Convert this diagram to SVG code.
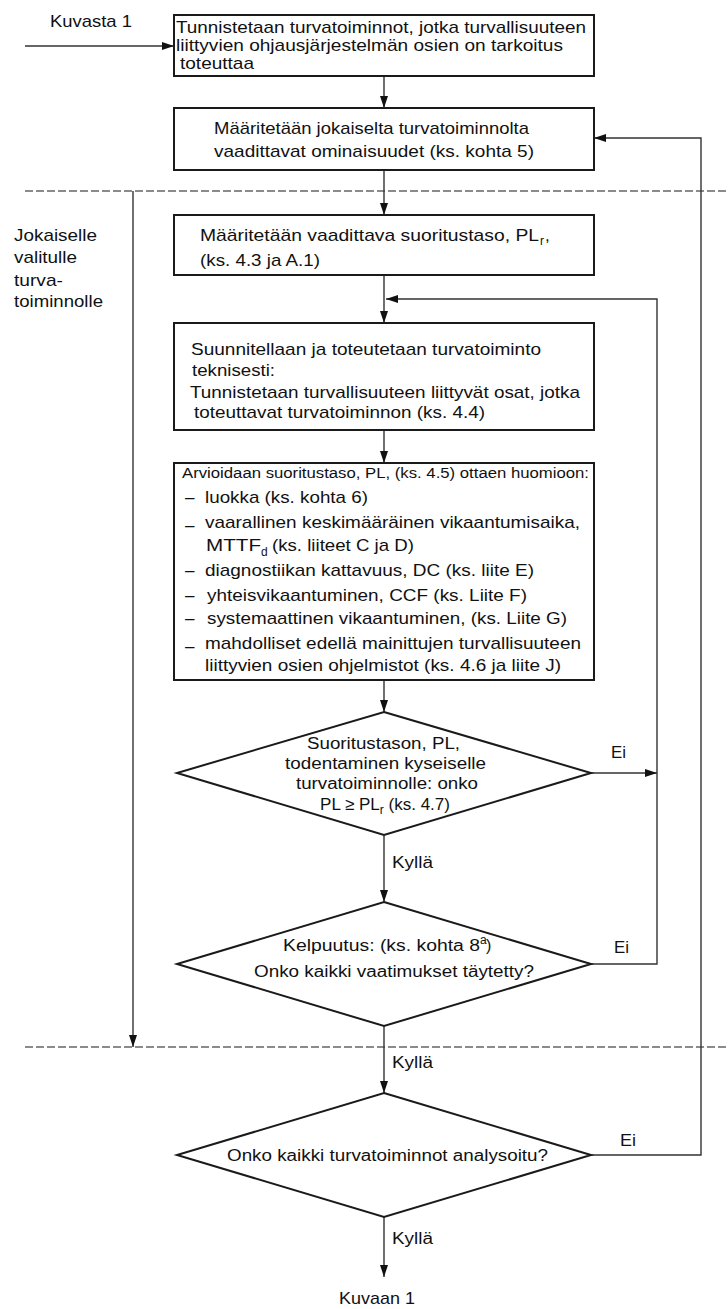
<svg xmlns="http://www.w3.org/2000/svg" width="728" height="1309" viewBox="0 0 728 1309">
  <style>
    text { font-family: "Liberation Sans", Arial, sans-serif; fill: #111; }
    .t { font-size: 17px; }
    .s { font-size: 16px; }
    .h { font-size: 14px; }
    .sub { font-size: 12px; }
    .mid { text-anchor: middle; }
    .box { fill: #fff; stroke: #1a1a1a; stroke-width: 2; }
    .dia { fill: #fff; stroke: #1a1a1a; stroke-width: 2; stroke-linejoin: miter; }
    .c { fill: none; stroke: #333; stroke-width: 1.4; }
    .dash { fill: none; stroke: #666; stroke-width: 1.3; stroke-dasharray: 8 3; }
  </style>
  <defs>
    <marker id="ah" viewBox="0 0 12 8" refX="12" refY="4" markerWidth="12" markerHeight="8" orient="auto" markerUnits="userSpaceOnUse">
      <path d="M0,0 L12,4 L0,8 z" fill="#111"/>
    </marker>
  </defs>

  <rect width="728" height="1309" fill="#fff"/>

  <!-- section boundaries -->
  <g id="boundaries">
    <line class="dash" x1="25" y1="191" x2="728" y2="191"/>
    <line class="dash" x1="25" y1="1047" x2="728" y2="1047"/>
  </g>

  <!-- connectors -->
  <g id="connectors">
    <line class="c" x1="25" y1="46" x2="174" y2="46" marker-end="url(#ah)"/>
    <line class="c" x1="384" y1="76" x2="384" y2="108" marker-end="url(#ah)"/>
    <line class="c" x1="384" y1="170" x2="384" y2="215" marker-end="url(#ah)"/>
    <line class="c" x1="384" y1="275" x2="384" y2="323" marker-end="url(#ah)"/>
    <line class="c" x1="384" y1="430" x2="384" y2="463" marker-end="url(#ah)"/>
    <line class="c" x1="384" y1="680" x2="384" y2="712" marker-end="url(#ah)"/>
    <line class="c" x1="384" y1="835" x2="384" y2="902" marker-end="url(#ah)"/>
    <line class="c" x1="384" y1="1026" x2="384" y2="1093" marker-end="url(#ah)"/>
    <line class="c" x1="384" y1="1217" x2="384" y2="1277" marker-end="url(#ah)"/>
    <!-- PL check fails: to the inner return line -->
    <line class="c" x1="591" y1="773" x2="657" y2="773" marker-end="url(#ah)"/>
    <!-- validation fails: back to design -->
    <polyline class="c" points="591,964 657,964 657,299 386,299" marker-end="url(#ah)"/>
    <!-- not all functions analysed: back to requirements -->
    <polyline class="c" points="591,1155 701,1155 701,138 594,138" marker-end="url(#ah)"/>
    <!-- per-function loop boundary -->
    <line class="c" x1="133" y1="191" x2="133" y2="1047" marker-end="url(#ah)"/>
  </g>

  <!-- free labels -->
  <g id="labels">
    <text class="t" x="50" y="27" textLength="82" lengthAdjust="spacingAndGlyphs">Kuvasta 1</text>
    <text class="t" x="14" y="241" textLength="83" lengthAdjust="spacingAndGlyphs">Jokaiselle</text>
    <text class="t" x="14" y="263" textLength="63" lengthAdjust="spacingAndGlyphs">valitulle</text>
    <text class="t" x="14" y="286" textLength="49" lengthAdjust="spacingAndGlyphs">turva-</text>
    <text class="t" x="14" y="307" textLength="89" lengthAdjust="spacingAndGlyphs">toiminnolle</text>
    <text class="s" x="611" y="758" textLength="15" lengthAdjust="spacingAndGlyphs">Ei</text>
    <text class="s" x="392" y="868" textLength="41" lengthAdjust="spacingAndGlyphs">Kyllä</text>
    <text class="s" x="614" y="953" textLength="15" lengthAdjust="spacingAndGlyphs">Ei</text>
    <text class="s" x="392" y="1068" textLength="41" lengthAdjust="spacingAndGlyphs">Kyllä</text>
    <text class="s" x="620" y="1146" textLength="16" lengthAdjust="spacingAndGlyphs">Ei</text>
    <text class="s" x="392" y="1244" textLength="41" lengthAdjust="spacingAndGlyphs">Kyllä</text>
    <text class="t" x="339" y="1304" textLength="76" lengthAdjust="spacingAndGlyphs">Kuvaan 1</text>
  </g>

  <g id="identify">
    <rect class="box" x="174" y="15" width="420" height="61"/>
    <text class="t" x="176" y="33" textLength="410" lengthAdjust="spacingAndGlyphs">Tunnistetaan turvatoiminnot, jotka turvallisuuteen</text>
    <text class="t" x="176" y="51" textLength="387" lengthAdjust="spacingAndGlyphs">liittyvien ohjausjärjestelmän osien on tarkoitus</text>
    <text class="t" x="180" y="69" textLength="74" lengthAdjust="spacingAndGlyphs">toteuttaa</text>
  </g>

  <g id="requirements">
    <rect class="box" x="174" y="108" width="420" height="62"/>
    <text class="t" x="214" y="134" textLength="315" lengthAdjust="spacingAndGlyphs">Määritetään jokaiselta turvatoiminnolta</text>
    <text class="t" x="214" y="157" textLength="320" lengthAdjust="spacingAndGlyphs">vaadittavat ominaisuudet (ks. kohta 5)</text>
  </g>

  <g id="required-pl">
    <rect class="box" x="174" y="215" width="420" height="60"/>
    <text class="t" x="200" y="241" textLength="339" lengthAdjust="spacingAndGlyphs">Määritetään vaadittava suoritustaso, PL</text>
    <text class="sub" x="540" y="245">r</text>
    <text class="t" x="545" y="241">,</text>
    <text class="t" x="200" y="266" textLength="120" lengthAdjust="spacingAndGlyphs">(ks. 4.3 ja A.1)</text>
  </g>

  <g id="design">
    <rect class="box" x="174" y="323" width="420" height="107"/>
    <text class="t" x="191" y="355" textLength="350" lengthAdjust="spacingAndGlyphs">Suunnitellaan ja toteutetaan turvatoiminto</text>
    <text class="t" x="192" y="376" textLength="83" lengthAdjust="spacingAndGlyphs">teknisesti:</text>
    <text class="t" x="190" y="398" textLength="390" lengthAdjust="spacingAndGlyphs">Tunnistetaan turvallisuuteen liittyvät osat, jotka</text>
    <text class="t" x="194" y="418" textLength="291" lengthAdjust="spacingAndGlyphs">toteuttavat turvatoiminnon (ks. 4.4)</text>
  </g>

  <g id="evaluate">
    <rect class="box" x="174" y="463" width="420" height="217"/>
    <text class="h" x="182" y="478" textLength="407" lengthAdjust="spacingAndGlyphs">Arvioidaan suoritustaso, PL, (ks. 4.5) ottaen huomioon:</text>
    <text class="t" x="185" y="503">–</text>
    <text class="t" x="205" y="503" textLength="163" lengthAdjust="spacingAndGlyphs">luokka (ks. kohta 6)</text>
    <text class="t" x="185" y="531">–</text>
    <text class="t" x="205" y="528" textLength="375" lengthAdjust="spacingAndGlyphs">vaarallinen keskimääräinen vikaantumisaika,</text>
    <text class="t" x="206" y="551" textLength="55" lengthAdjust="spacingAndGlyphs">MTTF</text>
    <text class="sub" x="261" y="556">d</text>
    <text class="t" x="272" y="551" textLength="142" lengthAdjust="spacingAndGlyphs">(ks. liiteet C ja D)</text>
    <text class="t" x="185" y="576">–</text>
    <text class="t" x="205" y="576" textLength="329" lengthAdjust="spacingAndGlyphs">diagnostiikan kattavuus, DC (ks. liite E)</text>
    <text class="t" x="185" y="601">–</text>
    <text class="t" x="207" y="601" textLength="320" lengthAdjust="spacingAndGlyphs">yhteisvikaantuminen, CCF (ks. Liite F)</text>
    <text class="t" x="185" y="624">–</text>
    <text class="t" x="207" y="624" textLength="360" lengthAdjust="spacingAndGlyphs">systemaattinen vikaantuminen, (ks. Liite G)</text>
    <text class="t" x="185" y="652">–</text>
    <text class="t" x="205" y="649" textLength="376" lengthAdjust="spacingAndGlyphs">mahdolliset edellä mainittujen turvallisuuteen</text>
    <text class="t" x="205" y="671" textLength="356" lengthAdjust="spacingAndGlyphs">liittyvien osien ohjelmistot (ks. 4.6 ja liite J)</text>
  </g>

  <g id="verify-pl">
    <polygon class="dia" points="384,712 591,773 384,835 177,773"/>
    <text class="s" x="307" y="749" textLength="153" lengthAdjust="spacingAndGlyphs">Suoritustason, PL,</text>
    <text class="s" x="285" y="769" textLength="201" lengthAdjust="spacingAndGlyphs">todentaminen kyseiselle</text>
    <text class="s" x="296" y="789" textLength="182" lengthAdjust="spacingAndGlyphs">turvatoiminnolle: onko</text>
    <text class="t mid" x="385" y="810">PL ≥ PL<tspan class="sub" dy="4">r</tspan><tspan dy="-4"> (ks. 4.7)</tspan></text>
  </g>

  <g id="validate">
    <polygon class="dia" points="384,902 591,964 384,1026 177,964"/>
    <text class="s" x="283" y="951" textLength="197" lengthAdjust="spacingAndGlyphs">Kelpuutus: (ks. kohta 8</text>
    <text class="sub" x="480" y="944">a</text>
    <text class="s" x="486" y="951">)</text>
    <text class="s" x="254" y="977" textLength="280" lengthAdjust="spacingAndGlyphs">Onko kaikki vaatimukset täytetty?</text>
  </g>

  <g id="all-analysed">
    <polygon class="dia" points="384,1093 591,1155 384,1217 177,1155"/>
    <text class="s" x="227" y="1161" textLength="321" lengthAdjust="spacingAndGlyphs">Onko kaikki turvatoiminnot analysoitu?</text>
  </g>
</svg>
